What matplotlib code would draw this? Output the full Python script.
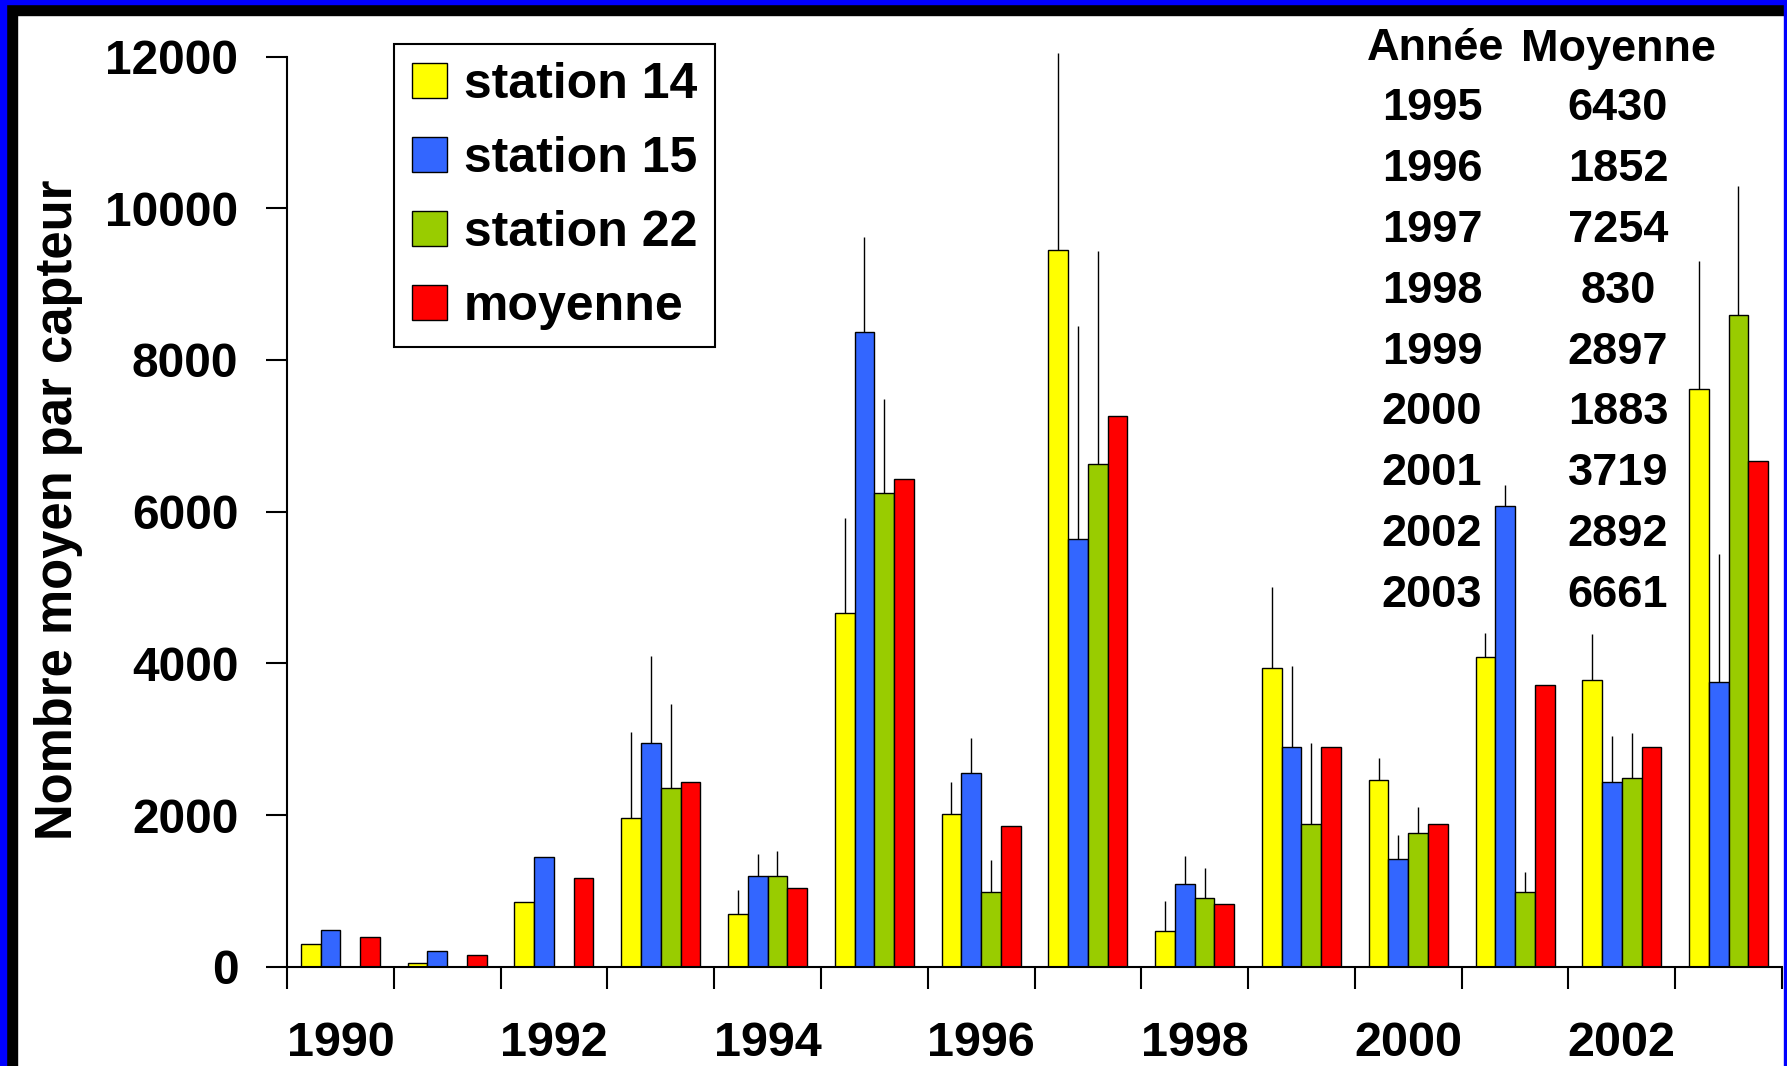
import matplotlib
matplotlib.use('Agg')
import matplotlib.pyplot as plt
import numpy as np
from matplotlib.patches import Rectangle

plt.rcParams['font.family'] = ['Liberation Sans', 'DejaVu Sans']
plt.rcParams['font.weight'] = 'bold'

years = list(range(1990, 2004))
station14 = [300, 55, 850, 1965, 700, 4660, 2010, 9450, 470, 3935, 2455, 4085, 3780, 7610]
station15 = [490, 205, 1450, 2955, 1195, 8365, 2560, 5640, 1090, 2900, 1425, 6080, 2435, 3750]
station22 = [0, 0, 0, 2355, 1195, 6245, 980, 6630, 905, 1880, 1760, 980, 2485, 8595]
moyenne = [390, 150, 1170, 2430, 1040, 6430, 1852, 7254, 830, 2897, 1883, 3719, 2892, 6661]
err14 = [0, 0, 0, 1125, 315, 1255, 430, 2595, 390, 1075, 295, 320, 605, 1690]
err15 = [0, 0, 0, 1145, 285, 1250, 450, 2810, 365, 1070, 310, 265, 600, 1695]
err22 = [0, 0, 0, 1115, 335, 1245, 425, 2805, 400, 1075, 340, 270, 600, 1695]

table_years = [1995, 1996, 1997, 1998, 1999, 2000, 2001, 2002, 2003]
table_means = [6430, 1852, 7254, 830, 2897, 1883, 3719, 2892, 6661]

W, H = 1787, 1066
fig = plt.figure(figsize=(W / 100, H / 100), dpi=100)
fig.patch.set_facecolor('white')

# frame around the slide
fig.patches.extend([
    Rectangle((0, 0), 17 / W, 1, transform=fig.transFigure, color='black', zorder=0),
    Rectangle((0, 1 - 15 / H), 1, 15 / H, transform=fig.transFigure, color='black', zorder=0),
    Rectangle((0, 0), 6 / W, 1, transform=fig.transFigure, color='#0000FF', zorder=1),
    Rectangle((0, 1 - 4 / H), 1, 4 / H, transform=fig.transFigure, color='#0000FF', zorder=1),
    Rectangle((1 - 3 / W, 0), 3 / W, 1, transform=fig.transFigure, color='#0000FF', zorder=1),
])

ax = fig.add_axes([287 / W, 1 - 966.7 / H, 1495 / W, 910.2 / H])
ax.set_facecolor('none')

n = len(years)
x = np.arange(n) + 0.5
w = 0.185
series = [
    (station14, err14, '#FFFF00', 'station 14'),
    (station15, err15, '#3366FF', 'station 15'),
    (station22, err22, '#99CC00', 'station 22'),
    (moyenne, None, '#FF0000', 'moyenne'),
]
for k, (vals, err, col, lab) in enumerate(series):
    pos = x + (k - 1.5) * w
    ax.bar(pos, vals, w, color=col, edgecolor='black', linewidth=1, label=lab, zorder=2)
    if err is not None:
        e = np.array(err)
        m = e > 0
        ax.errorbar(pos[m], np.array(vals)[m], yerr=[np.zeros(m.sum()), e[m]],
                    fmt='none', ecolor='black', elinewidth=1, capsize=0,
                    zorder=3, clip_on=False)

ax.set_xlim(0, n)
ax.set_ylim(0, 12000)
ax.spines['top'].set_visible(False)
ax.spines['right'].set_visible(False)
ax.spines['left'].set_linewidth(1.5)
ax.spines['bottom'].set_linewidth(1.5)

ax.set_xticks(np.arange(n + 1))
ax.set_xticklabels([''] * (n + 1))
ax.set_xticks(x, minor=True)
ax.set_xticklabels([str(y) if y % 2 == 0 else '' for y in years], minor=True)
ax.tick_params(axis='x', which='major', length=16, width=1.5, direction='out')
ax.tick_params(axis='x', which='minor', length=0, pad=39, labelsize=35)
ax.set_yticks(range(0, 12001, 2000))
ax.tick_params(axis='y', length=15, width=1.5, pad=20, labelsize=34.5)

fig.text(59 / W, 1 - 510 / H, 'Nombre moyen par capteur', rotation=90,
         ha='center', va='center', fontsize=36.5, fontweight='bold')

# table of yearly means
fig.text(1436 / W, 1 - 60.5 / H, 'Année', ha='center', va='baseline', fontsize=32.5)
fig.text(1618 / W, 1 - 60.5 / H, 'Moyenne', ha='center', va='baseline', fontsize=32.5)
for i, (yr, mv) in enumerate(zip(table_years, table_means)):
    yb = 1 - (120.5 + i * 60.8) / H
    fig.text(1432 / W, yb, str(yr), ha='center', va='baseline', fontsize=32.5)
    fig.text(1618 / W, yb, str(mv), ha='center', va='baseline', fontsize=32.5)

leg = ax.legend(loc='upper left', bbox_to_anchor=(394 / W, 1 - 44 / H),
                bbox_transform=fig.transFigure, borderaxespad=0,
                fontsize=36, handlelength=0.7, handleheight=0.7,
                handletextpad=0.35, labelspacing=0.56, borderpad=0.35,
                fancybox=False, framealpha=1, edgecolor='black')
leg.get_frame().set_linewidth(1.5)

fig.savefig('out.png', dpi=100)
